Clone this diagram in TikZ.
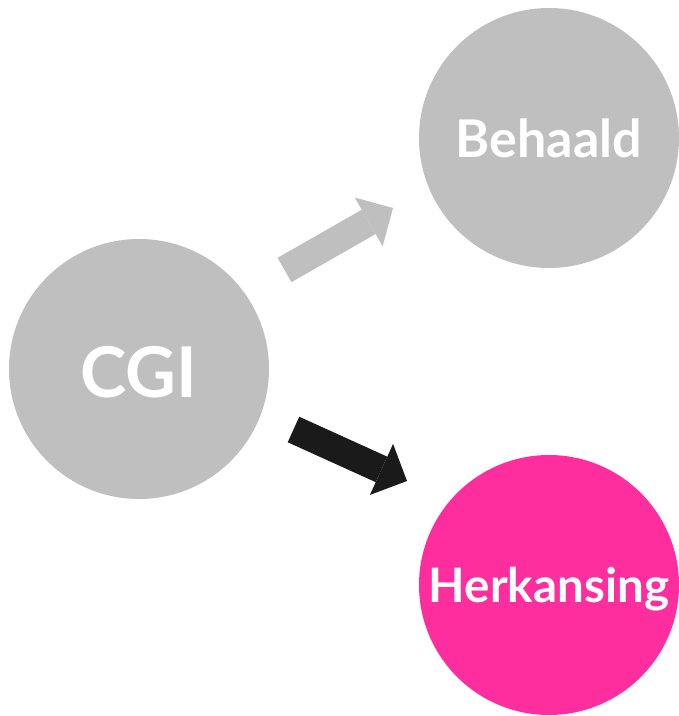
\documentclass[tikz,border=0pt]{standalone}
\usepackage{fontspec}
\setmainfont{Lato}
\usetikzlibrary{arrows.meta}
\definecolor{circgray}{RGB}{191,191,191}
\definecolor{hotpink}{RGB}{255,46,159}
\definecolor{arrowblack}{RGB}{26,26,26}
\tikzset{
  bubble/.style={circle, minimum size=260pt, inner sep=0pt, text=white, text depth=0pt},
  fatarrow/.style={line width=28pt, -{Triangle[length=28pt, width=56pt, line width=0pt]}}
}
\begin{document}
\begin{tikzpicture}[x=1pt, y=1pt]
\useasboundingbox (0,0) rectangle (679,716);
\node[bubble, fill=circgray, text height=58pt, font=\bfseries\fontsize{70}{70}\selectfont] (cgi) at (139,347) {CGI};
\node[bubble, fill=circgray, text height=40pt, font=\bfseries\fontsize{52}{52}\selectfont] (behaald) at (549,578) {Behaald};
\node[bubble, fill=hotpink, text height=36pt, font=\bfseries\fontsize{47.5}{47.5}\selectfont] (herk) at (549,131) {Herkansing};
\coordinate (g1) at (284.5,446);
\coordinate (g2) at (393,508);
\coordinate (b1) at (293.5,286.5);
\coordinate (b2) at (407,235);
\draw[fatarrow, draw=circgray, fill=circgray] (g1) -- (g2);
\draw[fatarrow, draw=arrowblack, fill=arrowblack] (b1) -- (b2);
\end{tikzpicture}
\end{document}
